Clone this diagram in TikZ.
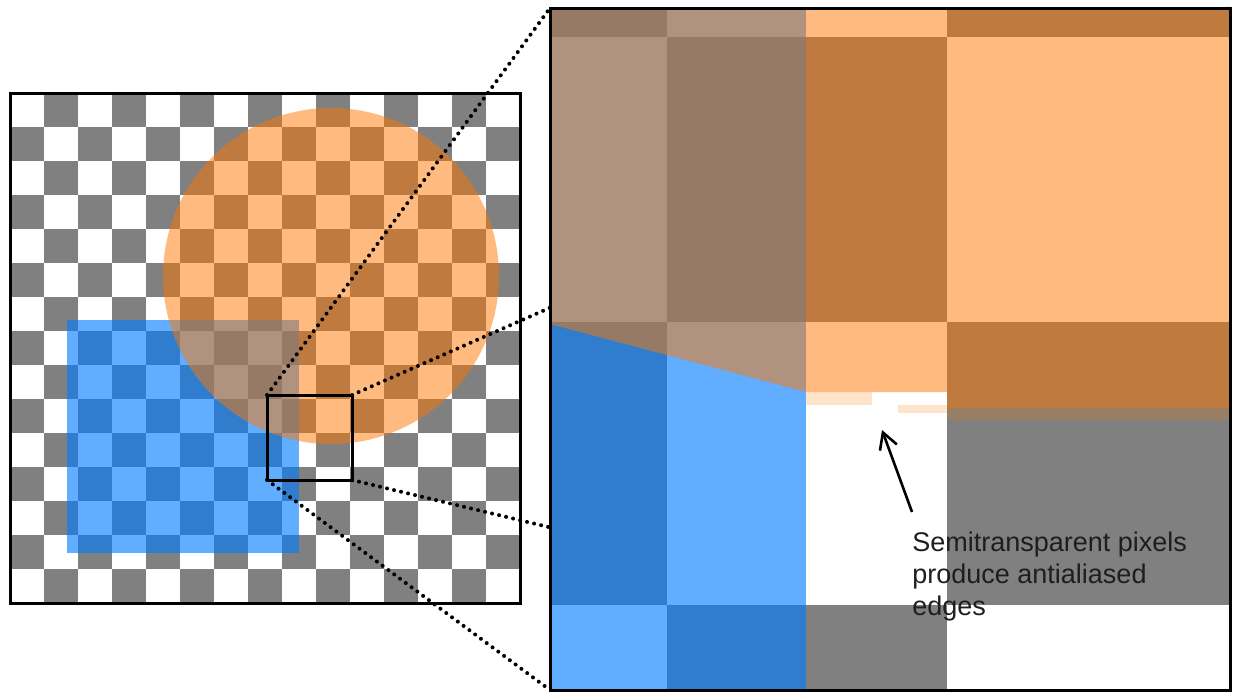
\documentclass[tikz,border=0pt]{standalone}
\usepackage{fontspec}
\newfontfamily\notefont{Liberation Sans}
\usepackage{tikz}
\usetikzlibrary{
    arrows.meta,
    positioning
}

\definecolor{checkgray}{RGB}{128,128,128}
\definecolor{washorange}{RGB}{255,120,0}
\definecolor{washblue}{RGB}{0,124,255}
\definecolor{notegray}{RGB}{30,30,30}

\begin{document}
\begin{tikzpicture}[
  x=0.5pt,
  y=-0.5pt,
  frame/.style={
    draw=black,
    line width=1.5pt
  },
  area/.style={
    inner sep=0pt,
    outer sep=0pt
  },
  darksquare/.style={fill=checkgray},
  bluewash/.style={fill=washblue, fill opacity=0.62},
  orangewash/.style={fill=washorange, fill opacity=0.5},
  edgewash/.style={fill=washorange, fill opacity=0.2},
  zoomline/.style={line width=2pt, line cap=round, dash pattern=on 0pt off 3.6pt},
  pointer/.style={-{Straight Barb[length=8pt,width=9pt]}, line width=1.3pt, draw=black},
  note/.style={
    font=\notefont\fontsize{13.5}{16}\selectfont,
    text=notegray,
    align=left,
    inner sep=0pt,
    anchor=north west
  }
]
  \useasboundingbox (0,0) rectangle (1234,692);

  % Scene: checkerboard under two semitransparent shapes.
  \node[area, minimum width=255pt, minimum height=255pt] (scene) at (265,348) {};
  \fill[white] (scene.north west) rectangle (scene.south east);
  \foreach \i in {0,...,14} {
    \foreach \j in {0,...,14} {
      \ifodd\numexpr\i+\j\relax
        \fill[darksquare] ({10+34*\i},{93+34*\j}) rectangle +(34,34);
      \fi
    }
  }
  \fill[bluewash] (67,320) rectangle (299,553);
  \fill[orangewash] (331,276) circle[radius=84pt];
  \draw[frame] (scene.north west) rectangle (scene.south east);

  % Region picked for magnification.
  \node[frame, area, minimum width=42.5pt, minimum height=42.5pt] (zoombox) at (309.5,437.5) {};
  \node[area, minimum width=340pt, minimum height=341pt] (panel) at (890,349) {};

  \draw[zoomline] (zoombox.north west) -- (panel.north west);
  \draw[zoomline] (zoombox.north east) -- (panel.north east);
  \draw[zoomline] (zoombox.south east) -- (panel.south east);
  \draw[zoomline] (zoombox.south west) -- (panel.south west);

  % Magnified pixels.
  \fill[white] (panel.north west) rectangle (panel.south east);
  \fill[darksquare] (550,8) rectangle (667,37);
  \fill[darksquare] (947,8) rectangle (1230,37);
  \fill[darksquare] (667,37) rectangle (947,322);
  \fill[darksquare] (550,322) rectangle (667,605);
  \fill[darksquare] (947,322) rectangle (1230,605);
  \fill[darksquare] (667,605) rectangle (947,690);
  \fill[bluewash] (550,8) rectangle (806,690);
  \fill[orangewash] (550,8) -- (1230,8) -- (1230,408) -- (947,408)
    -- (947,392) -- (806,392) -- (550,324) -- cycle;
  \fill[edgewash] (806,392) rectangle (872,405);
  \fill[edgewash] (898,405) rectangle (947,413);
  \fill[edgewash] (947,408) rectangle (1230,420);
  \draw[frame] (panel.north west) rectangle (panel.south east);

  % Annotation.
  \node[note] (caption) at (912,532) {Semitransparent pixels\\produce antialiased\\edges};
  \coordinate (aaedge) at (882,430);
  \draw[pointer] ([yshift=10pt]caption.north west) -- (aaedge);
\end{tikzpicture}
\end{document}
